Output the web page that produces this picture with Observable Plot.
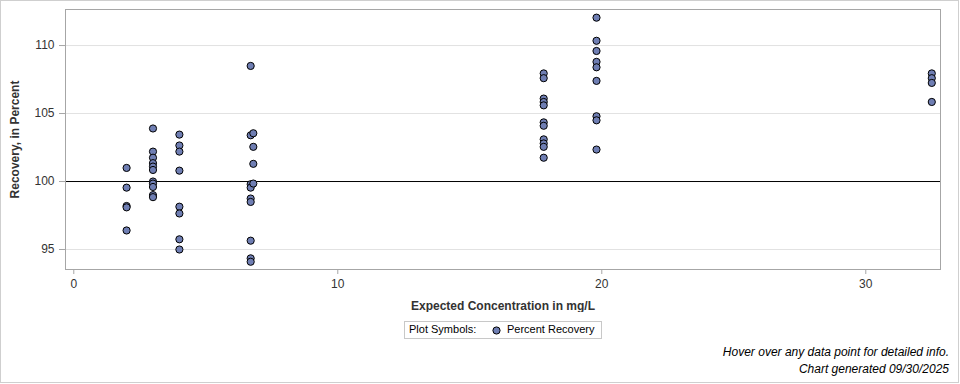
<!DOCTYPE html>
<html>
<head>
<meta charset="utf-8">
<script src="https://cdn.jsdelivr.net/npm/d3@7"></script>
<script src="https://cdn.jsdelivr.net/npm/@observablehq/plot@0.6"></script>
<style>
  body { margin: 0; background: #fff; font-family: "Liberation Sans", Arial, sans-serif; }
  #wrap { position: relative; width: 960px; height: 384px; overflow: hidden; }
  #border { position: absolute; left: 0; top: 0; width: 957px; height: 381px; border: 1px solid #cfcfcf; pointer-events: none; }
  #chart { position: absolute; left: 0; top: 0; }
  #chart g[aria-label="y-axis label"] text, #chart g[aria-label="x-axis label"] text { font-weight: bold; }
  #legend { position: absolute; left: 404px; top: 321px; width: 196px; height: 16px; border: 1px solid #c8c8c8; font-size: 11px; color: #000; }
  #legend .lab { position: absolute; left: 4px; top: 1px; }
  #legend svg { position: absolute; left: 87px; top: 4px; }
  #legend .ser { position: absolute; left: 102px; top: 1px; }
  #foot { position: absolute; right: 11px; top: 344px; text-align: right; font-style: italic; font-size: 12px; line-height: 17px; color: #000; }
</style>
</head>
<body>
<div id="wrap">
  <div id="chart"></div>
  <div id="legend"><span class="lab">Plot Symbols:</span><svg width="9" height="9"><circle cx="4.5" cy="4.5" r="3.6" fill="#6f7eb3" stroke="#000" stroke-width="1"></circle></svg><span class="ser">Percent Recovery</span></div>
  <div id="foot">Hover over any data point for detailed info.<br>Chart generated 09/30/2025</div>
  <div id="border"></div>
</div>
<script>
// Expected concentration (mg/L) of each group of samples
const concentrations = [2, 3, 4, 6.7, 6.8, 17.8, 19.8, 32.5];
// Percent recovery values for each concentration group
const recovery2 = [101.0, 99.55, 98.2, 98.1, 96.4];
const recovery3 = [103.9, 102.2, 101.75, 101.35, 101.1, 100.85, 100.0, 99.85, 99.6, 99.0, 98.85];
const recovery4 = [103.45, 102.65, 102.2, 100.8, 98.15, 97.65, 95.75, 95.0];
const recovery6_7 = [108.5, 103.4, 99.8, 99.55, 98.75, 98.5, 95.65, 94.35, 94.1];
const recovery6_8 = [103.55, 102.55, 101.3, 99.85];
const recovery17_8 = [107.95, 107.6, 106.1, 105.85, 105.6, 104.35, 104.1, 103.1, 102.8, 102.55, 101.75];
const recovery19_8 = [112.05, 110.35, 109.6, 108.8, 108.4, 107.4, 104.8, 104.5, 102.35];
const recovery32_5 = [107.95, 107.6, 107.25, 105.85];
const yTicks = [95, 100, 105, 110];
const xTicks = [0, 10, 20, 30];
const referenceLevel = [100];

const groups = [recovery2, recovery3, recovery4, recovery6_7, recovery6_8, recovery17_8, recovery19_8, recovery32_5];
const data = groups.flatMap((vals, i) => vals.map(v => ({conc: concentrations[i], rec: v})));

const axisGray = "#a6a6a6";
const chart = Plot.plot({
  width: 960,
  height: 312,
  marginLeft: 65,
  marginRight: 20,
  marginTop: 9,
  marginBottom: 43,
  style: { fontFamily: '"Liberation Sans", Arial, sans-serif', fontSize: "12px", color: "#000", background: "transparent" },
  x: { domain: [-0.314, 32.83] },
  y: { domain: [93.53, 112.65] },
  marks: [
    Plot.gridY(yTicks, { stroke: "#e2e2e2", strokeOpacity: 1 }),
    Plot.ruleY(referenceLevel, { stroke: "#000", strokeWidth: 1 }),
    Plot.frame({ stroke: axisGray }),
    Plot.axisY(yTicks, { tickSize: 6, tickPadding: 5, stroke: axisGray, fill: "#333", label: "Recovery, in Percent", labelAnchor: "center", labelArrow: "none", labelOffset: 55 }),
    Plot.axisX(xTicks, { tickSize: 5, tickPadding: 5, stroke: axisGray, fill: "#333", label: "Expected Concentration in mg/L", labelAnchor: "center", labelArrow: "none", labelOffset: 40 }),
    Plot.dot(data, { x: "conc", y: "rec", r: 3.6, fill: "#6f7eb3", fillOpacity: 1, stroke: "#000", strokeWidth: 1 })
  ]
});
document.getElementById("chart").appendChild(chart);
</script>
</body>
</html>
